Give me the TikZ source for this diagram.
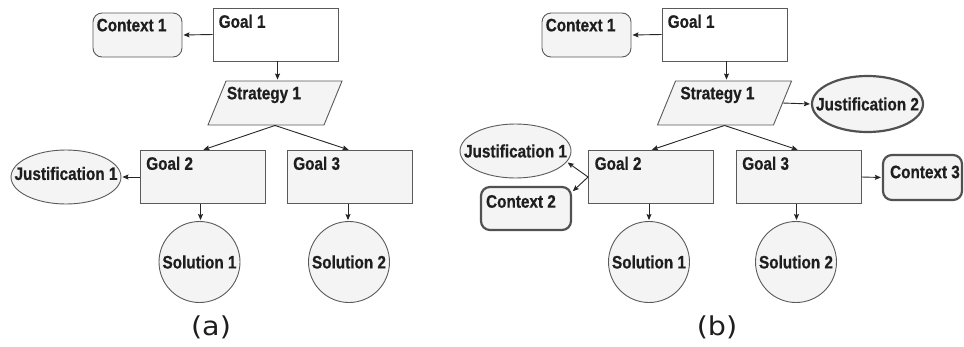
\documentclass[tikz,border=0pt]{standalone}
\usepackage{fontspec}
\usetikzlibrary{shapes.geometric,arrows.meta}
\newfontfamily\gsnfont[FakeStretch=0.85, BoldFeatures={FakeBold=0.6}]{Liberation Sans}
\newfontfamily\capfont[FakeStretch=1.1]{DejaVu Sans}
\definecolor{boxfill}{HTML}{F4F4F4}
\definecolor{edge}{HTML}{5A5A5A}
\definecolor{ink}{HTML}{1E1E1E}
\definecolor{wire}{HTML}{262626}
\tikzset{
  shapebase/.style={draw=edge, line width=0.9pt, fill=boxfill, inner sep=0pt, font=\gsnfont\bfseries\fontsize{18}{20}\selectfont, text=ink},
  goalbox/.style={shapebase, rectangle, minimum width=125pt, minimum height=53pt},
  ctxbox/.style={shapebase, rectangle, rounded corners=9pt, minimum width=89pt, minimum height=44pt},
  heavy/.style={line width=2.2pt, draw=edge!90!black},
  stratbox/.style={shapebase, rectangle, minimum width=116pt, minimum height=44pt, transform shape},
  justell/.style={shapebase, ellipse, minimum width=110pt, minimum height=54pt},
  solcirc/.style={shapebase, circle, minimum size=81pt},
  tag/.style={inner sep=0pt, anchor=north west, font=\gsnfont\bfseries\fontsize{18}{20}\selectfont, text=ink},
  arr/.style={draw=wire, line width=0.9pt, -{Stealth[length=6pt,width=5pt,inset=1pt]}, shorten >=1pt},
  caption/.style={font=\capfont\fontsize{26}{28}\selectfont, text=ink}
}
\begin{document}
\begin{tikzpicture}[x=1pt,y=-1pt]
\useasboundingbox[fill=white] (0,0) rectangle (964,346);

% ---------- panel (a) ----------
\node[goalbox, fill=white] (ga1) at (275.5,34.5) {};
\node[tag] (ga1t) at ([shift={(6,7)}]ga1.north west) {Goal 1};
\node[ctxbox] (ca1) at (137.5,35) {};
\node[tag] (ca1t) at ([shift={(4,6)}]ca1.north west) {Context 1};
\begin{scope}[shift={(275,103)}, xslant=0.41]
  \node[stratbox] (sa1) at (0,0) {};
\end{scope}
\node[tag] (sa1t) at ([shift={(1,6)}]sa1.north west) {Strategy 1};
\node[goalbox] (ga2) at (202.5,177) {};
\node[tag] (ga2t) at ([shift={(6.5,6.5)}]ga2.north west) {Goal 2};
\node[goalbox] (ga3) at (349.5,177) {};
\node[tag] (ga3t) at ([shift={(6.5,6.5)}]ga3.north west) {Goal 3};
\node[justell] (ja1) at (66,177) {};
\node[tag, anchor=center] (ja1t) at ([yshift=3.5pt]ja1.center) {Justification 1};
\node[solcirc] (sola1) at (199.5,262) {Solution 1};
\node[solcirc] (sola2) at (349,262) {Solution 2};
\node[caption] (capa) at (211,327) {(a)};

\draw[arr] (ga1.west) -- (ca1.east);
\draw[arr] ([xshift=2pt]ga1.south) -- ([xshift=2pt]ga1.south |- sa1.north);
\draw[arr] (sa1.center |- sa1.south) -- (ga2.north);
\draw[arr] (sa1.center |- sa1.south) -- (ga3.north);
\draw[arr] (ga2.west) -- (ja1.east);
\draw[arr] ([xshift=-2pt]ga2.south) -- ([xshift=-2pt]ga2.south |- sola1.north);
\draw[arr] ([xshift=-1.5pt]ga3.south) -- ([xshift=-1.5pt]ga3.south |- sola2.north);

% ---------- panel (b) ----------
\node[goalbox, fill=white] (gb1) at (724.5,34.5) {};
\node[tag] (gb1t) at ([shift={(6,7)}]gb1.north west) {Goal 1};
\node[ctxbox] (cb1) at (586.5,35) {};
\node[tag] (cb1t) at ([shift={(4,6)}]cb1.north west) {Context 1};
\begin{scope}[shift={(724.5,103)}, xslant=0.41]
  \node[stratbox] (sb1) at (0,0) {};
\end{scope}
\node[tag] (sb1t) at ([shift={(5,6)}]sb1.north west) {Strategy 1};
\node[justell, heavy, minimum width=111pt, minimum height=56pt] (jb2) at (867.5,104) {};
\node[tag, anchor=center] (jb2t) at (jb2.center) {Justification 2};
\node[goalbox] (gb2) at (651,177) {};
\node[tag] (gb2t) at ([shift={(6.5,6.5)}]gb2.north west) {Goal 2};
\node[goalbox] (gb3) at (798.5,177) {};
\node[tag] (gb3t) at ([shift={(6.5,6.5)}]gb3.north west) {Goal 3};
\node[justell, minimum width=111pt] (jb1) at (515.5,151) {};
\node[tag, anchor=center] (jb1t) at (jb1.center) {Justification 1};
\node[ctxbox, heavy, minimum width=90pt, minimum height=43pt] (cb2) at (526,208.5) {};
\node[tag] (cb2t) at ([shift={(6,9)}]cb2.north west) {Context 2};
\node[ctxbox, heavy, minimum width=79pt, minimum height=45pt] (cb3) at (922.5,177.5) {};
\node[tag] (cb3t) at ([shift={(8,11.5)}]cb3.north west) {Context 3};
\node[solcirc] (solb1) at (649,262) {Solution 1};
\node[solcirc] (solb2) at (796,262) {Solution 2};
\node[caption] (capb) at (717,327) {(b)};

\draw[arr] (gb1.west) -- (cb1.east);
\draw[arr] ([xshift=2pt]gb1.south) -- ([xshift=2pt]gb1.south |- sb1.north);
\draw[arr] (sb1.east) -- (jb2.west);
\draw[arr] (sb1.center |- sb1.south) -- (gb2.north);
\draw[arr] (sb1.center |- sb1.south) -- (gb3.north);
\draw[arr] (gb2.west) -- (jb1.-12);
\draw[arr] (gb2.west) -- ([yshift=-6pt]cb2.north east);
\draw[arr] (gb3.east) -- (cb3.west);
\draw[arr] ([xshift=-2pt]gb2.south) -- ([xshift=-2pt]gb2.south |- solb1.north);
\draw[arr] ([xshift=-2pt]gb3.south) -- ([xshift=-2pt]gb3.south |- solb2.north);
\end{tikzpicture}
\end{document}
